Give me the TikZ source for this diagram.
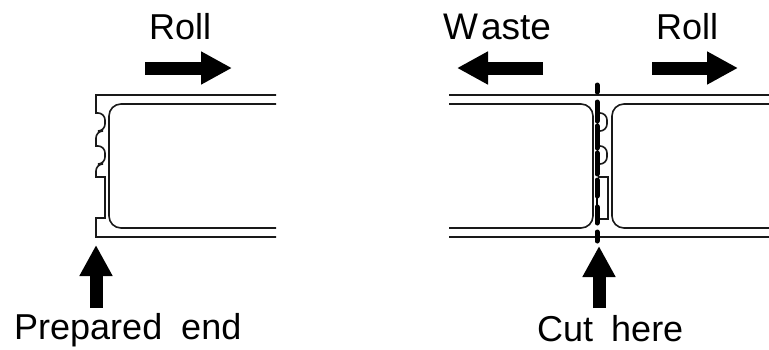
\documentclass[tikz,border=0pt]{standalone}
\usepackage{fontspec}
\setmainfont{Liberation Sans}
\usetikzlibrary{arrows.meta}
\tikzset{
	lbl/.style={anchor=base west,inner sep=0pt,font=\fontsize{36}{40}\selectfont},
	edge/.style={line width=1.6pt,color=black!90},
	bigarrow/.style={line width=13pt,-{Triangle[length=31pt,width=31pt]}},
	cut/.style={line width=5pt,line cap=round,dash pattern=on 7pt off 10pt on 19pt off 5pt on 22pt off 5pt on 21pt off 6pt on 16pt off 11pt on 16pt off 9pt on 9pt off 100pt}
}
\begin{document}
\begin{tikzpicture}[x=1pt,y=-1pt]
		\useasboundingbox (0,0) rectangle (769,349);

		\node[lbl] (roll1) at (149,39) {Roll};
		\node[lbl,font=\fontsize{37}{40}\selectfont] (waste) at (443,39) {W\kern3pt aste};
		\node[lbl] (roll2) at (656,39) {Roll};
		\node[lbl] (prep) at (14,339) {Prepared\kern9pt\ end};
		\node[lbl] (here) at (537,341) {Cut\kern8pt\ here};

		\coordinate (a1) at (145,68);
		\coordinate (a2) at (232,68);
		\coordinate (b1) at (543,68);
		\coordinate (b2) at (457,68);
		\coordinate (c1) at (652,68);
		\coordinate (c2) at (738,68);
		\coordinate (d1) at (96,308);
		\coordinate (d2) at (96,245);
		\coordinate (e1) at (599,308);
		\coordinate (e2) at (599,246);

		\draw[bigarrow] (a1) -- (a2);
		\draw[bigarrow] (b1) -- (b2);
		\draw[bigarrow] (c1) -- (c2);
		\draw[bigarrow] (d1) -- (d2);
		\draw[bigarrow] (e1) -- (e2);

		% prepared end
		\draw[edge] (276,95) -- (96,95) -- (96,113)
			[rounded corners=7pt] -- (105,113) -- (105,131) -- (96,131) [sharp corners]
			-- (96,146)
			[rounded corners=7pt] -- (105,146) -- (105,164) -- (96,164) [sharp corners]
			-- (96,177) -- (105,177) -- (105,218) -- (96,218) -- (96,237) -- (276,237);
		\draw[edge,rounded corners=12pt] (276,104) -- (109,104) -- (109,228) -- (276,228);

		% cut
		\draw[edge] (449,95) -- (769,95);
		\draw[edge] (449,237) -- (769,237);
		\draw[edge,rounded corners=12pt] (449,104) -- (593,104) -- (593,228) -- (449,228);
		\draw[edge,rounded corners=12pt] (769,104) -- (612,104) -- (612,228) -- (769,228);
		\foreach \y in {113,146}
			\draw[edge,rounded corners=7pt] (598,\y) -- (607,\y) -- (607,\y+18) -- (598,\y+18);
		\draw[edge] (598,177) -- (608,177) -- (608,219) -- (598,219);
		\draw[cut] (597,85) -- (597,245);
		\draw[line width=2.5pt] (597,196) -- (597,208);
	\end{tikzpicture}
\end{document}
